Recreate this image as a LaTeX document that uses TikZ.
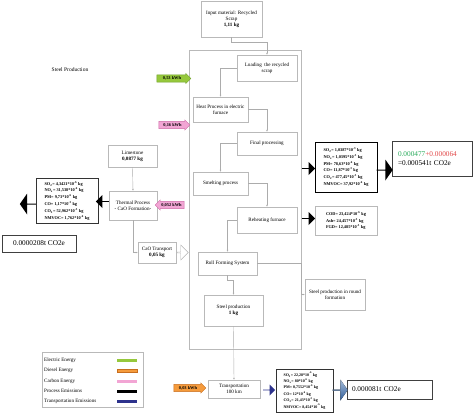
\documentclass[tikz,border=0pt]{standalone}
\usepackage{fontspec}
\setmainfont{Liberation Serif}
\usepackage{xcolor}
\usetikzlibrary{shapes.arrows,arrows.meta}
\definecolor{elecgreen}{RGB}{150,200,60}
\definecolor{elecedge}{RGB}{110,160,40}
\definecolor{carbpink}{RGB}{242,165,212}
\definecolor{carbedge}{RGB}{205,105,165}
\definecolor{dieselor}{RGB}{245,155,60}
\definecolor{dieseledge}{RGB}{200,110,30}
\definecolor{transblue}{RGB}{45,50,140}
\definecolor{steelblue}{RGB}{55,105,170}
\definecolor{cogreen}{RGB}{40,170,90}
\definecolor{cored}{RGB}{225,70,70}
\newcommand{\tpow}[1]{*10\textsuperscript{#1}}
\tikzset{
  wh/.style 2 args={minimum width=#1pt, minimum height=#2pt},
  box/.style={draw=gray!55, line width=0.4pt, align=center, inner sep=0pt, font=\fontsize{5.1}{6.2}\selectfont},
  embox/.style={draw=black, line width=1pt, align=left, inner sep=0pt, font=\bfseries\fontsize{4.3}{6.8}\selectfont},
  co2box/.style={draw=black!75, line width=0.9pt, align=left, inner sep=0pt, font=\fontsize{7.3}{9}\selectfont},
  link/.style={draw=gray!65, line width=0.4pt, -{Latex[length=2pt,width=1.8pt]}},
  kwh/.style={single arrow, single arrow head extend=1.4pt, inner sep=1.6pt, minimum width=10pt, minimum height=#1pt, font=\bfseries\fontsize{4.4}{5}\selectfont},
  blk/.style={single arrow, fill=black, inner sep=0pt, minimum height=13pt, minimum width=13pt, single arrow head extend=3pt},
  bigblk/.style={single arrow, fill=black, inner sep=0pt, minimum height=16pt, minimum width=21pt, single arrow head extend=4pt, single arrow tip angle=110},
  legtext/.style={anchor=west, inner sep=0pt, font=\fontsize{5.1}{6}\selectfont},
}
\begin{document}
\begin{tikzpicture}[x=1pt,y=-1pt]
\useasboundingbox (0,0) rectangle (474,413);

\node[box,wh={112}{299}] (stage) at (245,199.5) {};
\node[font=\fontsize{5.5}{6}\selectfont] (title) at (70,70) {Steel Production};

\node[box,wh={61}{36}] (input) at (231.5,19) {Input material: Recycled\\Scrap\\\textbf{1,11 kg}};
\node[box,wh={60}{26}] (load) at (267,68) {Loading\ \ the recycled\\scrap};
\node[box,wh={55}{25}] (heat) at (220.5,109.5) {Heat Process in electric\\furnace};
\node[box,wh={60}{23}] (final) at (267,143.5) {Final processing};
\node[box,wh={55}{23}] (smelt) at (220.5,183.5) {Smelting process};
\node[box,wh={60}{26}] (reheat) at (267,220) {Reheating furnace};
\node[box,wh={59}{23}] (roll) at (227.5,263.5) {Roll Forming System};
\node[box,wh={59}{31}] (prod) at (233.5,310.5) {Steel production\\\textbf{1 kg}};
\node[box,wh={60}{31}] (round) at (335,294.5) {Steel production in round\\formation};
\node[box,wh={52}{18}] (trans) at (234,389) {Transportation\\100 km};

\node[box,wh={49}{22}] (lime) at (132.5,156) {Limestone\\\textbf{0,0877 kg}};
\node[box,wh={48}{29}] (thermal) at (133,205.5) {Thermal Process\\- CaO Formation-};
\node[box,wh={38}{21}] (cao) at (157,252.5) {CaO Transport\\\textbf{0,05 kg}};

\node[embox,wh={62}{50}] (emR) at (346,167) {SO\textsubscript{2}= 1,0387\tpow{-3} kg\\NO\textsubscript{x}= 1,0395\tpow{-3} kg\\PM= 78,63\tpow{-6} kg\\CO= 11,87\tpow{-3} kg\\CO\textsubscript{2}= 477,45\tpow{-3} kg\\NMVOC= 37,92\tpow{-6} kg};
\node[embox,draw=gray!55,line width=0.5pt,wh={62}{29}] (emCOD) at (346,220.5) {COD= 23,424\tpow{-6} kg\\Ash= 24,457\tpow{-3} kg\\FGD= 12,485\tpow{-3} kg};
\node[embox,draw=black!80,wh={62}{45}] (emL) at (67,200.5) {SO\textsubscript{2}= 4,3421\tpow{-6} kg\\NO\textsubscript{x}= 31,538\tpow{-6} kg\\PM= 9,73\tpow{-6} kg\\CO= 1,17\tpow{-3} kg\\CO\textsubscript{2}= 52,962\tpow{-3} kg\\NMVOC= 1,762\tpow{-6} kg};
\node[embox,draw=black!80,wh={57}{43},font=\bfseries\fontsize{4}{6.4}\selectfont] (emB) at (304.5,390.5) {SO\textsubscript{2}= 22,28\tpow{-6} kg\\NO\textsubscript{x}= 80\tpow{-6} kg\\PM= 0,7552\tpow{-6} kg\\CO= 12\tpow{-6} kg\\CO\textsubscript{2}= 21,43\tpow{-3} kg\\NMVOC= 8,454\tpow{-6} kg};

\node[co2box,text width=68pt,inner xsep=6pt,minimum height=35pt] (co2R) at (432,158.5) {\textcolor{cogreen}{0.000477}\textcolor{cored}{+0.000064}\\=0.000541t CO2e};
\node[co2box,align=center,wh={74}{17}] (co2L) at (39,243.5) {0.0000208t CO2e};
\node[co2box,text width=75pt,inner xsep=5pt,minimum height=19pt] (co2B) at (389.5,389.5) {0.000081t CO2e};

\node[kwh=34,fill=elecgreen,draw=elecedge] (e1) at (172,78.5) {0,53 kWh};
\node[kwh=31,fill=carbpink,draw=carbedge] (e2) at (172.5,125) {0,16 kWh};
\node[kwh=29,fill=carbpink,draw=carbedge,shape border rotate=180] (e3) at (171.5,205) {0,052 kWh};
\node[kwh=32,fill=dieselor,draw=dieseledge] (e4) at (188,388) {0,03 kWh};

\node[blk] (b1) at (308.5,168.5) {};
\node[blk] (b2) at (308.5,218.5) {};
\node[blk,shape border rotate=180] (b3) at (102.5,201.5) {};
\node[bigblk] (b4) at (384.5,170) {};
\node[bigblk,shape border rotate=180] (b5) at (28,204) {};
\node[blk,fill=transblue,minimum height=12pt,minimum width=11pt] (u1) at (269,390) {};
\node[bigblk,top color=steelblue!45!white,bottom color=steelblue!90!black,minimum height=15pt] (u2) at (340,390) {};
\node[blk,fill=white,draw=gray!60,line width=0.4pt,minimum height=11pt,minimum width=15pt] (w1) at (182.5,252.5) {};

\draw[link] (input.south) -- ++(0,5) -| (load.north);
\draw[link] (load.west) -| (heat.north);
\draw[link] (heat.east) -| (final.north);
\draw[link] (final.west) -| (smelt.north);
\draw[link] (smelt.east) -| (reheat.north);
\draw[link] (reheat.west) -| (roll.north);
\draw[link] (roll.south) -- ++(0,5) -| (prod.north);
\draw[link] (roll.east) -- (stage.east |- roll.east) |- (round.west);
\draw[link] (prod.south) -- (trans.north);
\draw[link] (lime.south) -- (thermal.north);
\draw[link] (thermal.south) |- (cao.west);

\node[draw=gray!55,line width=0.4pt,minimum width=101pt,minimum height=55pt] (legend) at (92.5,379.5) {};
\node[legtext] (l1) at (44,360) {Electric Energy};
\node[legtext] (l2) at (44,370.5) {Diesel Energy};
\node[legtext] (l3) at (44,381) {Carbon Energy};
\node[legtext] (l4) at (44,391) {Process Emissions};
\node[legtext] (l5) at (44,401) {Transportation Emissions};
\fill[elecgreen] (117,358.5) rectangle (137,361.5);
\filldraw[fill=dieselor,draw=dieseledge,line width=0.3pt] (117,369) rectangle (137,372);
\fill[carbpink] (117,379.5) rectangle (137,382.5);
\fill[black] (117,389.5) rectangle (137,392.5);
\fill[transblue] (117,399.5) rectangle (137,402.5);
\end{tikzpicture}
\end{document}
